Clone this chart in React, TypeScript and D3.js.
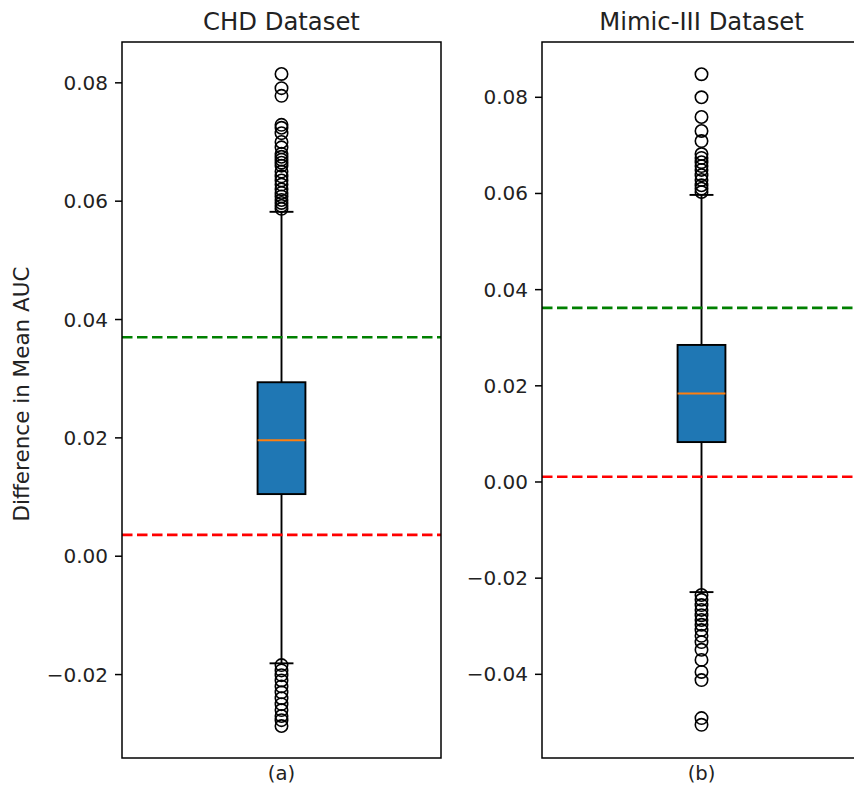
import React, { useEffect, useRef } from 'react'
import * as d3 from 'd3'

// panel titles / labels
const titles = ['CHD Dataset', 'Mimic-III Dataset']
const subLabels = ['(a)', '(b)']

// box statistics per dataset
const q1 = [0.0105, 0.0083]
const medians = [0.0196, 0.0184]
const q3 = [0.0294, 0.0285]
const whiskerLow = [-0.0181, -0.0229]
const whiskerHigh = [0.0582, 0.0597]

// reference lines
const greenLine = [0.0370, 0.0362]
const redLine = [0.0036, 0.0011]

// y domains and ticks
const yDomains = [[-0.0341, 0.0869], [-0.0574, 0.0915]]
const yTicks = [
  [-0.02, 0.0, 0.02, 0.04, 0.06, 0.08],
  [-0.04, -0.02, 0.0, 0.02, 0.04, 0.06, 0.08]
]

// outliers
const chdFliers = [
  0.0815, 0.0791, 0.0778, 0.0729, 0.0724, 0.0715, 0.0700, 0.0691, 0.0680, 0.0675,
  0.0670, 0.0665, 0.0660, 0.0650, 0.0642, 0.0635, 0.0628, 0.0620, 0.0614, 0.0608,
  0.0602, 0.0597, 0.0592, 0.0587,
  -0.0184, -0.0193, -0.0201, -0.0210, -0.0220, -0.0230, -0.0240, -0.0250, -0.0260,
  -0.0270, -0.0277, -0.0287
]
const mimicFliers = [
  0.0848, 0.0800, 0.0759, 0.0730, 0.0709, 0.0682, 0.0674, 0.0665, 0.0657, 0.0649,
  0.0638, 0.0628, 0.0617, 0.0610, 0.0603,
  -0.0235, -0.0245, -0.0256, -0.0266, -0.0277, -0.0287, -0.0297, -0.0308, -0.0320,
  -0.0333, -0.0349, -0.0370, -0.0395, -0.0412, -0.0491, -0.0505
]
const fliers = [chdFliers, mimicFliers]

const FONT = 'DejaVu Sans, sans-serif'

export default function App () {
  const ref = useRef<SVGSVGElement>(null)

  useEffect(() => {
    const svg = d3.select(ref.current)
    svg.selectAll('*').remove()

    const top = 42
    const bottom = 758
    const panelW = 319
    const lefts = [122, 542]
    const fmt = (v: number) => d3.format('.2f')(v).replace('-', '\u2212')

    titles.forEach((title, i) => {
      const x = d3.scaleLinear().domain([0.5, 1.5]).range([lefts[i], lefts[i] + panelW])
      const y = d3.scaleLinear().domain(yDomains[i]).range([bottom, top])
      const g = svg.append('g')

      g.append('clipPath').attr('id', 'clip' + i)
        .append('rect')
        .attr('x', lefts[i]).attr('y', top)
        .attr('width', panelW).attr('height', bottom - top)

      const plot = g.append('g').attr('clip-path', 'url(#clip' + i + ')')

      // whiskers
      plot.append('line')
        .attr('x1', x(1)).attr('x2', x(1))
        .attr('y1', y(q3[i])).attr('y2', y(whiskerHigh[i]))
        .attr('stroke', 'black').attr('stroke-width', 1.9)
      plot.append('line')
        .attr('x1', x(1)).attr('x2', x(1))
        .attr('y1', y(q1[i])).attr('y2', y(whiskerLow[i]))
        .attr('stroke', 'black').attr('stroke-width', 1.9)
      ;[whiskerHigh[i], whiskerLow[i]].forEach(w => {
        plot.append('line')
          .attr('x1', x(1 - 0.0375)).attr('x2', x(1 + 0.0375))
          .attr('y1', y(w)).attr('y2', y(w))
          .attr('stroke', 'black').attr('stroke-width', 1.9)
      })

      // box
      plot.append('rect')
        .attr('x', x(1 - 0.075)).attr('y', y(q3[i]))
        .attr('width', x(1 + 0.075) - x(1 - 0.075))
        .attr('height', y(q1[i]) - y(q3[i]))
        .attr('fill', '#1f77b4').attr('stroke', 'black').attr('stroke-width', 1.9)
      plot.append('line')
        .attr('x1', x(1 - 0.075)).attr('x2', x(1 + 0.075))
        .attr('y1', y(medians[i])).attr('y2', y(medians[i]))
        .attr('stroke', '#ff7f0e').attr('stroke-width', 1.9)

      // fliers
      plot.selectAll('.flier' + i)
        .data(fliers[i])
        .enter().append('circle')
        .attr('cx', x(1)).attr('cy', d => y(d))
        .attr('r', 6.2)
        .attr('fill', 'none').attr('stroke', 'black').attr('stroke-width', 1.6)

      // reference lines
      const refs: [number, string][] = [[greenLine[i], '#008000'], [redLine[i], '#ff0000']]
      refs.forEach(([v, c]) => {
        plot.append('line')
          .attr('x1', lefts[i]).attr('x2', lefts[i] + panelW)
          .attr('y1', y(v)).attr('y2', y(v))
          .attr('stroke', c).attr('stroke-width', 2.6)
          .attr('stroke-dasharray', '10.5,4.5')
      })

      // frame
      g.append('rect')
        .attr('x', lefts[i]).attr('y', top)
        .attr('width', panelW).attr('height', bottom - top)
        .attr('fill', 'none').attr('stroke', 'black').attr('stroke-width', 1.5)

      // y axis
      const ticks = g.selectAll('.tick' + i).data(yTicks[i]).enter().append('g')
      ticks.append('line')
        .attr('x1', lefts[i] - 7).attr('x2', lefts[i])
        .attr('y1', d => y(d)).attr('y2', d => y(d))
        .attr('stroke', 'black').attr('stroke-width', 1.5)
      ticks.append('text')
        .attr('x', lefts[i] - 14).attr('y', d => y(d))
        .attr('dy', '0.35em')
        .attr('text-anchor', 'end')
        .attr('font-family', FONT).attr('font-size', 20)
        .attr('fill', '#222')
        .text(d => fmt(d))

      // title and sub label
      g.append('text')
        .attr('x', x(1)).attr('y', 30)
        .attr('text-anchor', 'middle')
        .attr('font-family', FONT).attr('font-size', 24.3)
        .attr('fill', '#222')
        .text(title)
      g.append('text')
        .attr('x', x(1)).attr('y', 780)
        .attr('text-anchor', 'middle')
        .attr('font-family', FONT).attr('font-size', 19.6)
        .attr('fill', '#222')
        .text(subLabels[i])
    })

    svg.append('text')
      .attr('transform', 'translate(29,' + 394 + ') rotate(-90)')
      .attr('text-anchor', 'middle')
      .attr('font-family', FONT).attr('font-size', 21.5)
      .attr('fill', '#222')
      .text('Difference in Mean AUC')
  }, [])

  return (
    <div style={{ position: 'absolute', left: 0, top: 0 }}>
      <svg ref={ref} width={854} height={789} style={{ display: 'block', background: 'white' }} />
    </div>
  )
}
